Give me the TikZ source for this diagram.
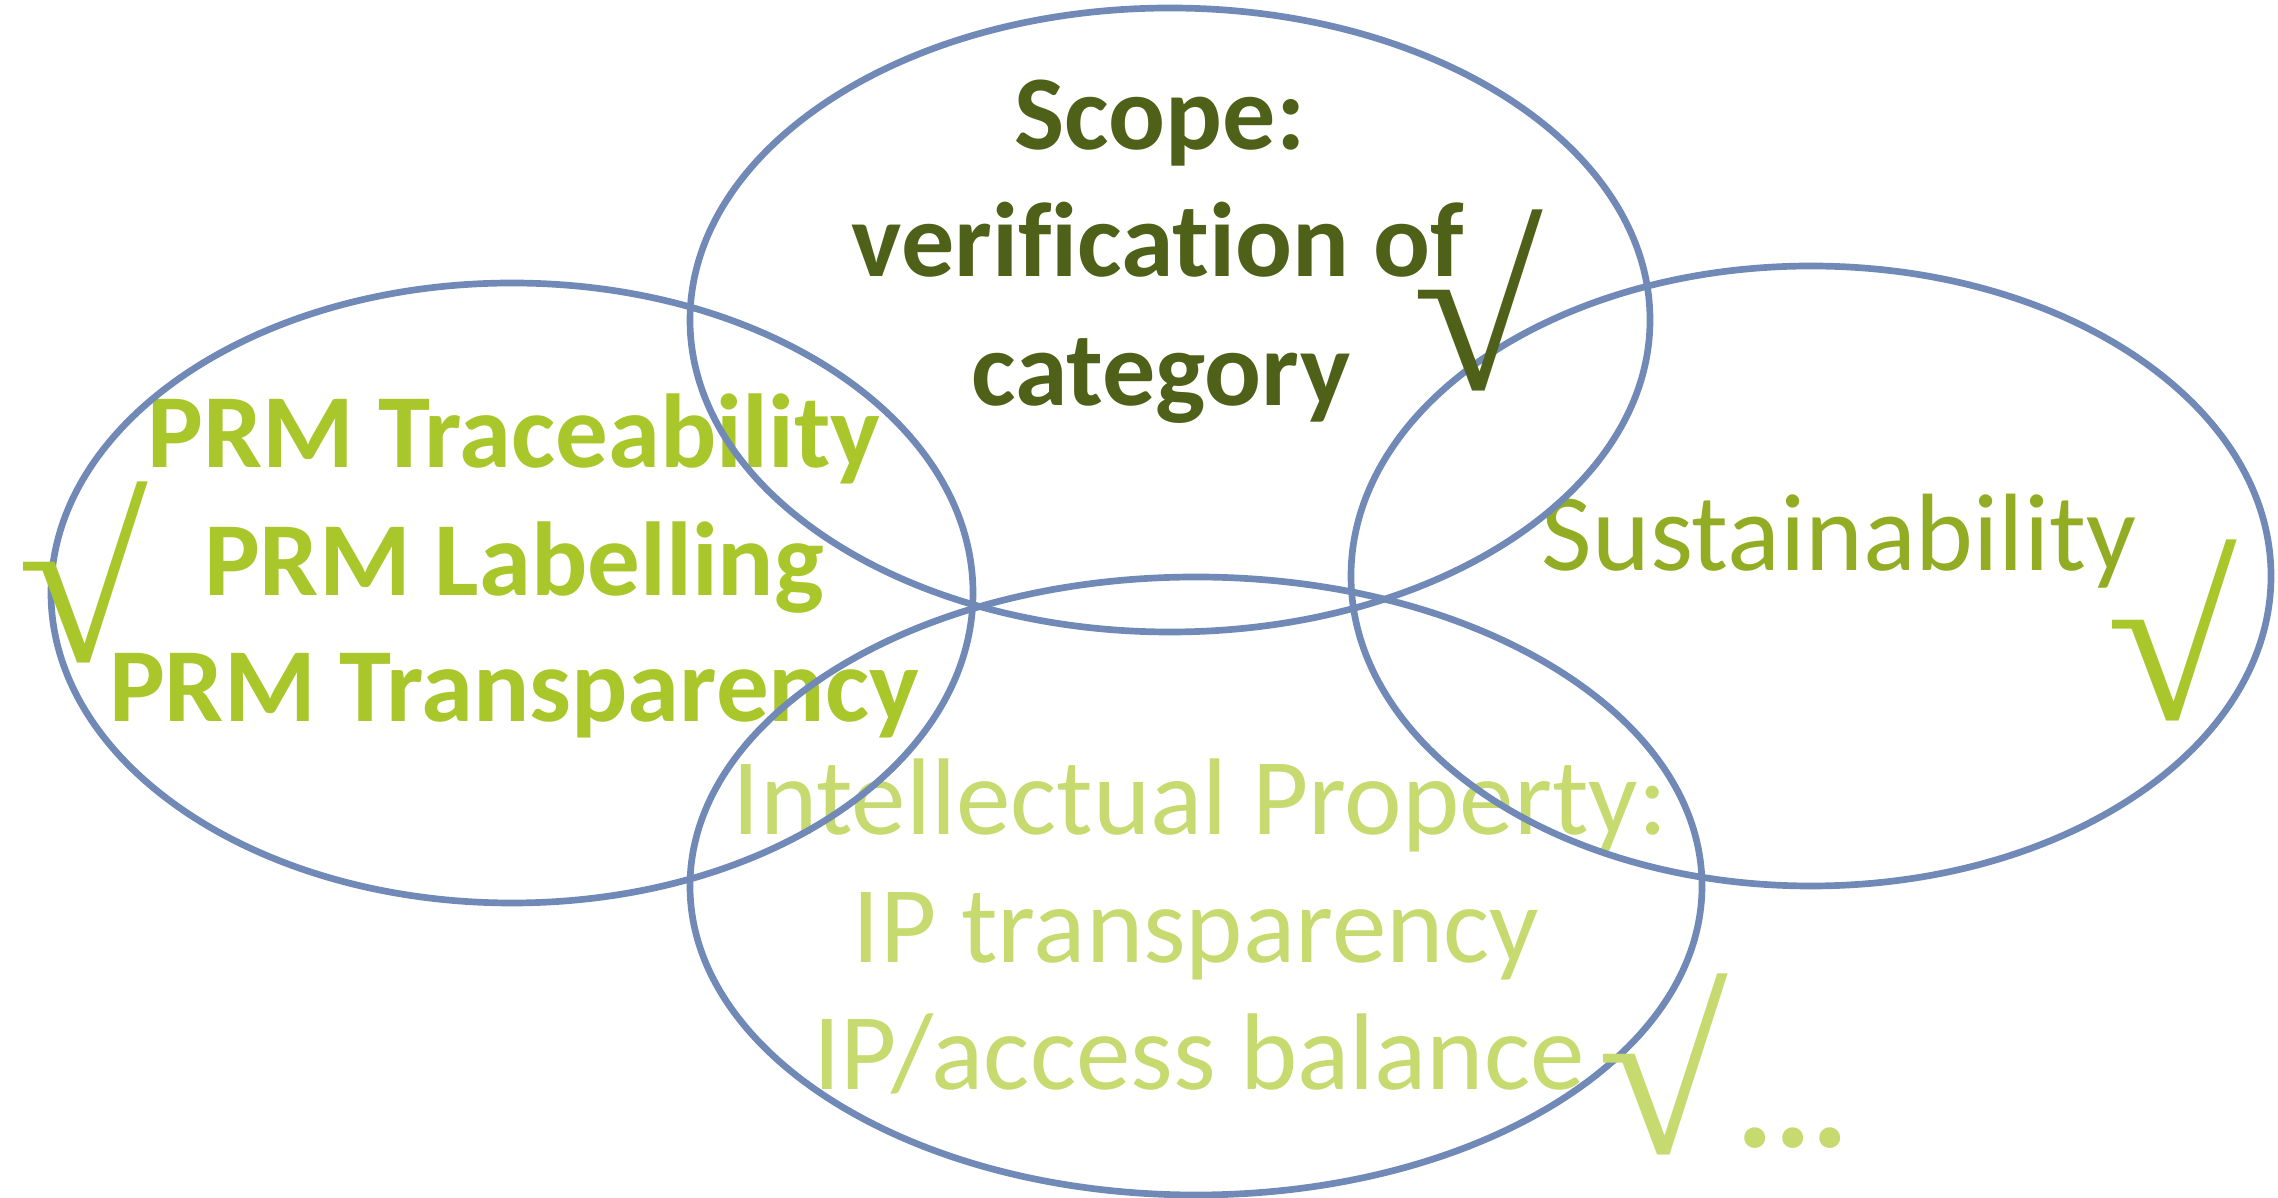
\documentclass[tikz,border=0pt]{standalone}
\usepackage{fontspec}
\setmainfont{Carlito}[Ligatures=NoCommon]
\newfontfamily\radfont{Liberation Serif}
\definecolor{ringblue}{RGB}{113,137,183}
\definecolor{darkolive}{RGB}{79,97,25}
\definecolor{prmgreen}{RGB}{169,198,43}
\definecolor{sustgreen}{RGB}{146,173,35}
\definecolor{ipgreen}{RGB}{198,218,112}
\begin{document}
\begin{tikzpicture}[x=0.01cm,y=-0.01cm,
  ring/.style={draw=ringblue,line width=1.9pt},
  lbl/.style={anchor=base,inner sep=0pt},
  scopetxt/.style={lbl,text=darkolive,font=\fontsize{1.06cm}{1.3cm}\selectfont\bfseries},
  prmtxt/.style={lbl,text=prmgreen,font=\fontsize{1.05cm}{1.3cm}\selectfont\bfseries},
  susttxt/.style={lbl,text=sustgreen,font=\fontsize{1.10cm}{1.3cm}\selectfont},
  iptxt/.style={lbl,text=ipgreen,font=\fontsize{1.09cm}{1.3cm}\selectfont},
  tick/.style={inner sep=0pt,anchor=center,xscale=1.05,font=\fontsize{2.27cm}{2.4cm}\selectfont\radfont}
]
\useasboundingbox[fill=white] (0,0) rectangle (2278,1198);

% texts
\node[scopetxt] (s1) at (1160,150) {Scope:};
\node[scopetxt] (s2) at (1158,277) {verification of};
\node[scopetxt] (s3) at (1161,406) {category};

\node[prmtxt] (p1) at (514,468) {PRM Traceability};
\node[prmtxt] (p2) at (514,596) {PRM Labelling};
\node[prmtxt] (p3) at (514,722) {PRM Transparency};

\node[susttxt] (su) at (1839,571) {Sustainability};

\node[iptxt] (i1) at (1200,835) {Intellectual Property:};
\node[iptxt] (i2) at (1196,963) {IP transparency};
\node[iptxt] (i3) at (1199,1090) {IP/access balance};

% rings
\draw[ring] (1170,320) ellipse [x radius=480, y radius=312];
\draw[ring] (512,593) ellipse [x radius=461, y radius=310];
\draw[ring] (1811,576) ellipse [x radius=460, y radius=310];
\draw[ring] (1196,886) ellipse [x radius=506, y radius=309];

% check marks
\node[tick,text=darkolive] (t1) at (1478,300) {√};
\node[tick,text=prmgreen] (t2) at (83,572) {√};
\node[tick,text=prmgreen] (t3) at (2172,630) {√};
\node[tick,text=ipgreen] (t4) at (1663,1064) {√};
\node[anchor=base west,inner sep=0pt,text=ipgreen,font=\fontsize{1.4cm}{1.5cm}\selectfont\bfseries] (dots) at (1736,1148) {...};
\end{tikzpicture}
\end{document}
